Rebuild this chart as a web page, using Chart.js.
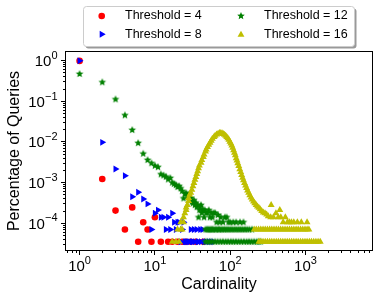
<!DOCTYPE html>
<html>
<head>
<meta charset="utf-8">
<script src="https://cdn.jsdelivr.net/npm/chart.js@4.4.1/dist/chart.umd.min.js"></script>
<style>
  html, body { margin: 0; padding: 0; background: #fff; }
  canvas { display: block; }
</style>
</head>
<body>
<canvas id="cardChart" width="382" height="299"></canvas>
<script>
// share of queries per cardinality
const seriesLabels = ['Threshold = 4', 'Threshold = 8', 'Threshold = 12', 'Threshold = 16'];
const seriesColors = ['#ff0000', '#0000ff', '#008000', '#bfbf00'];

// the flat rows at the bottom are 1, 2 and 3 queries out of the whole log
const level1 = 3.52e-5;
const level2 = 7.04e-5;
const level3 = 1.06e-4;

const t4Points = [[1, 0.99], [2, 1.23e-3], [3, 2.05e-4], [4, 7.04e-5], [5, 2.46e-4], [7, 1.06e-4],
  [8, 7.04e-5], [10, 1.41e-4]];
const t4Row1 = [6, 9, 12, 15, 17, 20, 23, 26, 30, 35, 44];

const t8Points = [[1, 1.0], [2, 9.8e-3], [3, 2.17e-3], [4, 1.48e-3], [5, 4.5e-4], [6, 5.8e-4],
  [7, 3.97e-4], [8, 3.0e-4], [10, 1.76e-4], [11, 2.11e-4], [12, 1.41e-4], [13, 1.41e-4],
  [15, 1.41e-4], [17, 1.76e-4], [18, 1.06e-4], [20, 1.06e-4], [21, 1.06e-4], [24, 1.06e-4]];
const t8Row2 = [9, 14, 16, 19, 23, 30, 33, 36, 40, 43];
const t8Row1 = [22, 25, 26, 27, 28, 29, 31, 32, 34, 37, 38, 41, 45, 48, 52, 56, 60];

const t12Points = [[1, 0.471], [2, 0.294], [3, 0.112], [4, 0.0454], [5, 0.0197], [6, 0.0094],
  [7, 0.00515], [8, 0.0036], [9, 0.0030], [10, 0.0026], [11, 0.0024], [12, 0.0016], [13, 0.0015],
  [14, 0.0014], [15, 0.0012], [16, 0.0013], [17, 0.0010], [18, 0.00093], [19, 0.00087],
  [20, 0.00078], [21, 0.00082], [22, 0.00072], [23, 0.00062], [24, 0.00041], [25, 0.00053],
  [26, 0.00055], [27, 0.00046], [28, 0.00051], [29, 0.00037], [30, 0.00042], [31, 0.00034],
  [32, 0.00031], [33, 0.00037], [34, 0.00028], [35, 0.00032], [36, 0.00025], [37, 0.00028],
  [38, 0.00014], [39, 0.00021], [40, 0.00025], [41, 0.00028], [42, 0.00018], [43, 0.00021],
  [44, 0.00021], [45, 0.00014], [46, 0.00021], [48, 0.00018], [50, 0.00018], [52, 0.00021],
  [54, 0.00014], [56, 0.00018], [58, 0.00014], [60, 0.00018], [63, 0.00018], [66, 0.000106],
  [69, 0.00016], [72, 0.000106], [75, 0.00014], [80, 0.000106], [85, 0.00014], [90, 0.00014],
  [95, 0.000106], [100, 0.000106], [110, 0.000106], [120, 0.000106], [135, 0.000106], [150, 0.000106]];
const t12Row2 = [47, 49, 51, 53, 55, 57, 59, 62, 65, 68, 71, 74, 78, 82, 86, 91, 96, 102, 108,
  115, 122, 130, 138, 147, 157, 168, 180, 195];
const t12Row1 = [47, 50, 54, 58, 63, 68, 74, 80, 87, 94, 102, 110, 119, 129, 140, 152, 165, 178,
  192, 208, 225, 240, 254];

const t16Points = [[17, 3.52e-5], [19, 3.52e-5], [21, 3.52e-5], [20, 7.04e-5], [22, 7.04e-5],
  [23, 7.04e-5], [22, 1.06e-4], [24, 1.06e-4], [24, 1.41e-4], [25, 1.76e-4], [26, 2.11e-4],
  [26, 2.46e-4], [27, 2.82e-4], [28, 3.52e-4], [28, 4.2e-4], [29, 5.0e-4], [30, 5.6e-4],
  [31, 6.7e-4], [32, 8.1e-4], [33, 9.8e-4], [34, 1.17e-3], [35, 1.38e-3], [36, 1.62e-3],
  [37, 1.9e-3], [38, 2.25e-3], [39, 2.64e-3], [41, 3.1e-3], [42, 3.6e-3], [44, 4.3e-3],
  [45, 4.9e-3], [47, 5.8e-3], [48, 6.5e-3], [50, 7.5e-3], [52, 8.5e-3], [54, 9.6e-3],
  [56, 1.08e-2], [58, 1.2e-2], [61, 1.32e-2], [63, 1.43e-2], [66, 1.53e-2], [69, 1.6e-2],
  [72, 1.66e-2], [75, 1.67e-2], [78, 1.63e-2], [81, 1.58e-2], [84, 1.51e-2], [87, 1.42e-2],
  [90, 1.33e-2], [93, 1.24e-2], [96, 1.13e-2], [99, 1.02e-2], [102, 9.2e-3], [105, 8.2e-3],
  [108, 7.2e-3], [111, 6.3e-3], [114, 5.4e-3], [117, 4.7e-3], [120, 4.0e-3], [123, 3.5e-3],
  [126, 3.0e-3], [130, 2.55e-3], [134, 2.15e-3], [138, 1.82e-3], [142, 1.55e-3], [146, 1.32e-3],
  [150, 1.14e-3], [155, 9.8e-4], [160, 8.5e-4], [165, 7.4e-4], [170, 6.4e-4], [176, 5.6e-4],
  [182, 4.9e-4], [189, 4.3e-4], [196, 3.85e-4], [204, 3.45e-4], [212, 3.1e-4], [221, 2.82e-4],
  [230, 2.6e-4], [240, 2.4e-4], [250, 2.2e-4], [262, 2.0e-4], [275, 1.85e-4], [290, 1.76e-4],
  [305, 1.65e-4], [320, 1.5e-4], [350, 2.82e-4], [345, 1.41e-4], [375, 1.41e-4], [405, 1.76e-4],
  [435, 1.41e-4], [456, 2.11e-4], [470, 1.41e-4], [505, 1.06e-4], [540, 1.41e-4], [575, 1.06e-4],
  [610, 1.06e-4], [650, 1.06e-4], [700, 1.06e-4], [780, 1.06e-4], [880, 1.06e-4], [1050, 1.06e-4]];
const t16Row2 = [208, 222, 238, 255, 273, 292, 312, 334, 357, 382, 409, 437, 468, 500, 535, 572,
  612, 655, 700, 750, 800, 860, 920, 985, 1050, 1110];
const t16Row1 = [240, 255, 273, 292, 312, 334, 357, 382, 409, 437, 468, 500, 535, 572, 612, 655,
  700, 750, 800, 860, 920, 985, 1050, 1125, 1200, 1285, 1375, 1470, 1570];

// axis ranges and tick exponents
const xMin = 0.65, xMax = 7760;
const yMin = 2.14e-5, yMax = 1.684;
const xTickExps = [0, 1, 2, 3];
const yTickExps = [0, -1, -2, -3, -4];

const FONT = '"Liberation Sans", Arial, Helvetica, sans-serif';

function toXY(points) {
  return points.map(p => ({ x: p[0], y: p[1] }));
}
function onLevel(xs, level) {
  return xs.map(x => [x, level]);
}

// matplotlib style filled star marker
function makeStar(color, r) {
  const size = Math.ceil(r * 2) + 2;
  const c = document.createElement('canvas');
  c.width = size;
  c.height = size;
  const g = c.getContext('2d');
  g.fillStyle = color;
  g.beginPath();
  for (let i = 0; i < 10; i++) {
    const rad = i % 2 === 0 ? r : r * 0.45;
    const a = -Math.PI / 2 + i * Math.PI / 5;
    g.lineTo(size / 2 + rad * Math.cos(a), size / 2 + rad * Math.sin(a));
  }
  g.closePath();
  g.fill();
  return c;
}
const starImg = makeStar(seriesColors[2], 4);

function drawTriangle(ctx, x, y, r, rot) {
  let rad = rot;
  ctx.beginPath();
  for (let i = 0; i < 3; i++) {
    ctx.lineTo(x + Math.sin(rad) * r, y - Math.cos(rad) * r);
    rad += Math.PI * 2 / 3;
  }
  ctx.closePath();
  ctx.fill();
}

function roundRect(ctx, x, y, w, h, r) {
  ctx.beginPath();
  ctx.moveTo(x + r, y);
  ctx.arcTo(x + w, y, x + w, y + h, r);
  ctx.arcTo(x + w, y + h, x, y + h, r);
  ctx.arcTo(x, y + h, x, y, r);
  ctx.arcTo(x, y, x + w, y, r);
  ctx.closePath();
}

// "10" with a raised exponent, like mathtext labels
function drawPower(ctx, exp, cx, cy, align) {
  const sup = exp < 0 ? '\u2212' + (-exp) : String(exp);
  ctx.font = '15px ' + FONT;
  const wb = ctx.measureText('10').width;
  ctx.font = '11px ' + FONT;
  const ws = ctx.measureText(sup).width;
  const total = wb + ws;
  const left = align === 'center' ? cx - total / 2 : cx - total;
  ctx.textAlign = 'left';
  ctx.textBaseline = 'alphabetic';
  ctx.font = '15px ' + FONT;
  ctx.fillText('10', left, cy + 5.4);
  ctx.font = '11px ' + FONT;
  ctx.fillText(sup, left + wb, cy - 1.8);
}

const frameAndTicks = {
  id: 'frameAndTicks',
  afterDraw(chart) {
    const { ctx, chartArea: a, scales: { x, y } } = chart;
    const snap = v => Math.round(v - 0.5) + 0.5;
    ctx.save();
    ctx.strokeStyle = '#000';
    ctx.fillStyle = '#000';
    ctx.lineWidth = 1;
    ctx.strokeRect(a.left, a.top, a.right - a.left, a.bottom - a.top);

    // x ticks
    ctx.beginPath();
    for (let e = -1; e <= 3; e++) {
      for (let m = 1; m <= 9; m++) {
        const v = m * Math.pow(10, e);
        if (v < xMin || v > xMax) continue;
        const px = snap(x.getPixelForValue(v));
        const len = m === 1 ? 4.5 : 2.5;
        ctx.moveTo(px, a.bottom);
        ctx.lineTo(px, a.bottom + len);
      }
    }
    // y ticks
    for (let e = -5; e <= 0; e++) {
      for (let m = 1; m <= 9; m++) {
        const v = m * Math.pow(10, e);
        if (v < yMin || v > yMax) continue;
        const py = snap(y.getPixelForValue(v));
        const len = m === 1 ? 4.5 : 2.5;
        ctx.moveTo(a.left, py);
        ctx.lineTo(a.left - len, py);
      }
    }
    ctx.stroke();

    xTickExps.forEach(e => drawPower(ctx, e, x.getPixelForValue(Math.pow(10, e)), 265.3, 'center'));
    yTickExps.forEach(e => drawPower(ctx, e, 57.5, y.getPixelForValue(Math.pow(10, e)), 'right'));

    // axis titles
    ctx.font = '16px ' + FONT;
    ctx.textAlign = 'center';
    ctx.textBaseline = 'alphabetic';
    ctx.fillText('Cardinality', (a.left + a.right) / 2, 288.5);
    ctx.save();
    ctx.translate(18.5, (a.top + a.bottom) / 2);
    ctx.rotate(-Math.PI / 2);
    ctx.fillText('Percentage of Queries', 0, 0);
    ctx.restore();

    // legend box with shadow, two columns
    const bx = 83.5, by = 6.5, bw = 271, bh = 40;
    ctx.fillStyle = 'rgba(0,0,0,0.4)';
    roundRect(ctx, bx + 2, by + 2, bw, bh, 3);
    ctx.fill();
    ctx.fillStyle = '#fff';
    ctx.strokeStyle = '#cccccc';
    roundRect(ctx, bx, by, bw, bh, 3);
    ctx.fill();
    ctx.stroke();

    const cols = [101.7, 241];
    const rows = [16, 34.3];
    const textX = [125, 264];
    ctx.fillStyle = seriesColors[0];
    ctx.beginPath();
    ctx.arc(cols[0], rows[0], 3.3, 0, Math.PI * 2);
    ctx.fill();
    ctx.fillStyle = seriesColors[1];
    drawTriangle(ctx, cols[0], rows[1], 4, Math.PI / 2);
    ctx.drawImage(starImg, cols[1] - starImg.width / 2, rows[0] - starImg.height / 2);
    ctx.fillStyle = seriesColors[3];
    drawTriangle(ctx, cols[1], rows[1] + 0.5, 4, 0);

    ctx.fillStyle = '#000';
    ctx.font = '12.5px ' + FONT;
    ctx.textAlign = 'left';
    ctx.textBaseline = 'middle';
    ctx.fillText(seriesLabels[0], textX[0], rows[0]);
    ctx.fillText(seriesLabels[1], textX[0], rows[1]);
    ctx.fillText(seriesLabels[2], textX[1], rows[0]);
    ctx.fillText(seriesLabels[3], textX[1], rows[1]);
    ctx.restore();
  }
};

const config = {
  type: 'scatter',
  data: {
    datasets: [
      {
        label: seriesLabels[0],
        data: toXY(t4Points.concat(onLevel(t4Row1, level1))),
        pointStyle: 'circle',
        pointRadius: 3.3,
        pointBackgroundColor: seriesColors[0],
        pointBorderWidth: 0,
        order: 4
      },
      {
        label: seriesLabels[1],
        data: toXY(t8Points.concat(onLevel(t8Row2, level2), onLevel(t8Row1, level1))),
        pointStyle: 'triangle',
        pointRotation: 90,
        pointRadius: 4,
        pointBackgroundColor: seriesColors[1],
        pointBorderWidth: 0,
        order: 3
      },
      {
        label: seriesLabels[2],
        data: toXY(t12Points.concat(onLevel(t12Row2, level2), onLevel(t12Row1, level1))),
        pointStyle: starImg,
        pointRadius: 4,
        pointBackgroundColor: seriesColors[2],
        pointBorderWidth: 0,
        order: 2
      },
      {
        label: seriesLabels[3],
        data: toXY(t16Points.concat(onLevel(t16Row2, level2), onLevel(t16Row1, level1))),
        pointStyle: 'triangle',
        pointRadius: 4,
        pointBackgroundColor: seriesColors[3],
        pointBorderWidth: 0,
        order: 1
      }
    ]
  },
  options: {
    responsive: false,
    animation: false,
    events: [],
    layout: { padding: { left: 65.5, right: 9.5, top: 51.5, bottom: 48.5 } },
    plugins: { legend: { display: false }, tooltip: { enabled: false } },
    scales: {
      x: { type: 'logarithmic', min: xMin, max: xMax, display: false },
      y: { type: 'logarithmic', min: yMin, max: yMax, display: false }
    }
  },
  plugins: [frameAndTicks]
};

const ctx = document.getElementById('cardChart').getContext('2d');
const cardChart = new Chart(ctx, config);
</script>
</body>
</html>
